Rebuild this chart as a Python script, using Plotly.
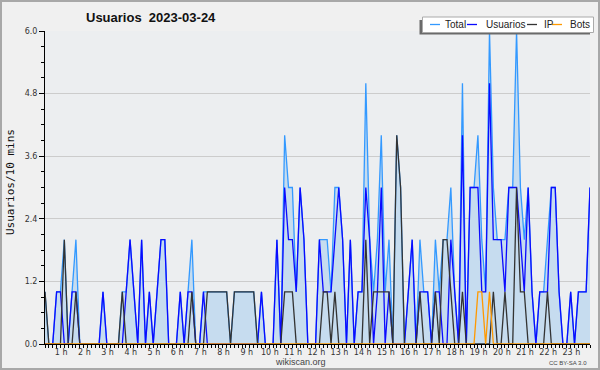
import plotly.graph_objects as go

# 10-minute slots of the day (0 = 00:00)
slots = list(range(142))

total = [1,0,0,1,1,2,0,1,2,0,
         0,0,0,0,0,1,0,0,0,0,
         1,1,2,1,0,2,0,1,0,1,
         2,2,0,0,0,1,0,1,2,0,
         0,1,1,1,1,1,1,1,0,1,
         1,1,1,1,1,0,1,0,0,0,
         2,0,4,3,3,1,3,2,0,0,
         0,2,2,2,1,3,3,2,0,2,
         0,1,1,5,2,1,2,4,1,2,
         0,4,3,0,1,2,0,2,1,1,
         0,2,1,2,2,3,1,0,5,0,
         3,3,4,2,1,6,3,2,2,2,
         3,3,6,3,2,3,1,0,1,1,
         2,3,3,1,0,0,1,0,1,1,
         1,3]
usuarios = [0,0,0,1,1,0,0,1,1,0,
            0,0,0,0,0,1,0,0,0,0,
            0,1,2,1,0,2,0,1,0,1,
            2,2,0,0,0,1,0,1,1,0,
            0,1,0,0,0,0,0,0,0,0,
            0,0,0,0,0,0,1,0,0,0,
            2,0,3,2,2,1,3,2,0,0,
            0,2,1,1,1,2,3,2,0,2,
            0,1,1,3,2,0,1,3,0,1,
            0,0,0,0,1,2,0,1,1,1,
            0,1,1,0,0,2,1,0,4,0,
            3,3,3,1,1,5,2,2,2,1,
            3,3,3,2,1,3,1,0,1,1,
            1,3,3,1,0,0,1,0,1,1,
            1,3]
ip = [1,0,0,0,0,2,0,0,1,0,
      0,0,0,0,0,0,0,0,0,0,
      1,0,0,0,0,0,0,0,0,0,
      0,0,0,0,0,0,0,0,1,0,
      0,0,1,1,1,1,1,1,0,1,
      1,1,1,1,1,0,0,0,0,0,
      0,0,1,1,1,0,0,0,0,0,
      0,0,1,1,0,1,0,0,0,0,
      0,0,0,2,0,1,1,1,1,1,
      0,4,3,0,0,0,0,1,0,0,
      0,1,0,2,2,1,0,0,1,0,
      0,0,0,0,0,0,1,0,0,1,
      0,0,3,1,1,0,0,0,0,0,
      1,0,0,0,0,0,0,0,0,0,
      0,0]
bots = [0]*112 + [1,1,0,1] + [0]*26

hour_slots = [6*h for h in range(1, 24)]
hour_labels = [f"{h} h" for h in range(1, 24)]

C_TOTAL = "#3399ff"
C_USERS = "#0a0aff"
C_IP = "#333333"
C_BOTS = "#ff9900"

fig = go.Figure()
fig.add_trace(go.Scatter(x=slots, y=total, mode="lines", name="Total",
                         line=dict(color=C_TOTAL, width=1.3), fill="tozeroy",
                         fillcolor="#c6dcef"))
fig.add_trace(go.Scatter(x=slots, y=usuarios, mode="lines", name="Usuarios",
                         line=dict(color=C_USERS, width=1.3)))
fig.add_trace(go.Scatter(x=slots, y=ip, mode="lines", name="IP",
                         line=dict(color=C_IP, width=1.3)))
fig.add_trace(go.Scatter(x=slots, y=bots, mode="lines", name="Bots",
                         line=dict(color=C_BOTS, width=1.3)))

L, R, T, B = 45, 10, 31, 26
W, H = 600, 370
PW, PH = W - L - R, H - T - B

def px(x):
    return (x - L) / PW

def py(y):
    return (H - B - y) / PH

fig.update_layout(
    width=W, height=H,
    margin=dict(l=L, r=R, t=T, b=B, pad=0),
    paper_bgcolor="#f0f0f0",
    plot_bgcolor="#eceef0",
    showlegend=False,
    font=dict(family="DejaVu Sans", size=8, color="#333333"),
)
fig.update_xaxes(
    range=[0, 141], tickmode="array", tickvals=hour_slots, ticktext=hour_labels,
    ticks="outside", ticklen=3, tickcolor="#000000", tickwidth=1,
    ticklabelshift=-7, ticklabelstandoff=-3,
    minor=dict(dtick=1, tick0=0, ticks="outside", ticklen=3, tickcolor="#000000"),
    showline=True, linecolor="#000000", linewidth=1,
    showgrid=False, zeroline=False,
    tickfont=dict(family="DejaVu Sans", size=8, color="#333333"),
)
fig.update_yaxes(
    range=[0, 6], dtick=1.2, tick0=0, tickformat=".1f",
    ticks="outside", ticklen=5, tickcolor="#000000",
    minor=dict(dtick=0.3, ticks="outside", ticklen=3, tickcolor="#000000", showgrid=False),
    showline=True, linecolor="#000000", linewidth=1,
    showgrid=True, gridcolor="#cccccc", gridwidth=1, zeroline=False,
    tickfont=dict(family="DejaVu Sans", size=8, color="#333333"),
)

ann = []
ann.append(dict(text="<b>Usuarios  2023-03-24</b>", xref="paper", yref="paper",
                x=px(151), y=py(17), xanchor="center", yanchor="middle", showarrow=False,
                font=dict(family="Liberation Sans", size=13, color="#111111")))
ann.append(dict(text="Usuarios/10 mins", xref="paper", yref="paper",
                x=px(10), y=py(182), xanchor="center", yanchor="middle", textangle=-90,
                showarrow=False, font=dict(family="DejaVu Sans Mono", size=11, color="#111111")))
ann.append(dict(text="wikiscan.org", xref="paper", yref="paper",
                x=px(300), y=py(362), xanchor="center", yanchor="middle", showarrow=False,
                font=dict(family="Liberation Sans", size=9, color="#444444")))
ann.append(dict(text="CC BY-SA 3.0", xref="paper", yref="paper",
                x=px(589), y=py(362.5), xanchor="right", yanchor="middle", showarrow=False,
                font=dict(family="Liberation Sans", size=6, color="#444444")))

shapes = []
# outer frame
shapes.append(dict(type="rect", xref="paper", yref="paper",
                   x0=px(1), x1=px(599), y0=py(369), y1=py(1),
                   line=dict(color="#a8a8a8", width=2), fillcolor="rgba(0,0,0,0)", layer="above"))
# legend shadow and box
shapes.append(dict(type="rect", xref="paper", yref="paper",
                   x0=px(419.5), x1=px(590), y0=py(34.5), y1=py(20),
                   line=dict(width=0), fillcolor="#6a6a6a", layer="above"))
shapes.append(dict(type="rect", xref="paper", yref="paper",
                   x0=px(422.5), x1=px(593.5), y0=py(32.5), y1=py(17),
                   line=dict(color="#aaaaaa", width=1), fillcolor="#ffffff", layer="above"))
legend_items = [("Total", C_TOTAL, 430, 443), ("Usuarios", C_USERS, 467, 484),
                ("IP", C_IP, 527, 542), ("Bots", C_BOTS, 552, 568)]
for name, col, lx, tx in legend_items:
    shapes.append(dict(type="line", xref="paper", yref="paper",
                       x0=px(lx), x1=px(lx + 10), y0=py(24.5), y1=py(24.5),
                       line=dict(color=col, width=1.3), layer="above"))
    ann.append(dict(text=name, xref="paper", yref="paper", x=px(tx), y=py(24.8),
                    xanchor="left", yanchor="middle", showarrow=False,
                    font=dict(family="Liberation Sans", size=10, color="#222222")))

fig.update_layout(annotations=ann, shapes=shapes)
fig.write_html("out.html")
